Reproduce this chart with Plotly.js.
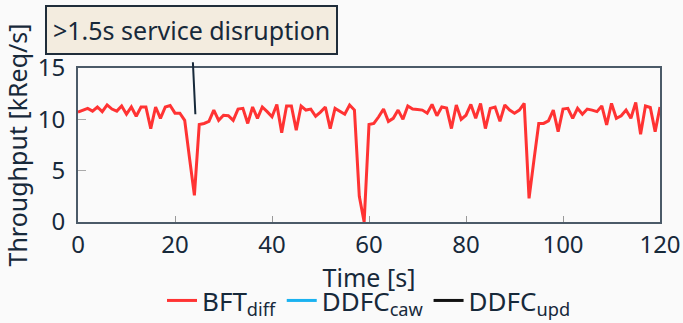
<!DOCTYPE html>
<html>
<head>
<meta charset="utf-8">
<script src="https://cdn.plot.ly/plotly-3.0.1.min.js"></script>
<style>html,body{margin:0;padding:0;background:#fafafa;}#chart{width:683px;height:323px;}</style>
</head>
<body>
<div id="chart"></div>
<script>
// Time in seconds (one sample per second)
const timeSec = [];
for (let i = 0; i <= 120; i++) timeSec.push(i);

// BFT_diff throughput [kReq/s]
const bftDiff = [
  10.7, 10.9, 11.07, 10.8, 11.2, 10.75, 11.4, 11.0, 10.8, 11.3,
  10.5, 11.2, 10.3, 11.2, 11.2, 9.1, 11.2, 10.1, 11.2, 11.35,
  10.6, 10.6, 9.9, 6.2, 2.6, 9.5, 9.6, 9.8, 10.9, 9.9,
  10.4, 10.35, 9.9, 11.0, 11.07, 9.6, 11.2, 10.1, 11.2, 10.75,
  10.25, 11.45, 8.7, 11.3, 11.3, 8.95, 11.3, 10.9, 11.0, 10.3,
  10.7, 11.2, 9.1, 11.07, 10.75, 10.5, 11.4, 10.9, 2.5, 0.0,
  9.5, 9.6, 10.25, 11.0, 9.8, 10.1, 10.9, 10.0, 11.3, 11.0,
  10.95, 10.9, 10.6, 11.45, 10.35, 11.2, 11.1, 9.1, 11.4, 10.0,
  10.4, 11.45, 10.1, 11.55, 9.1, 11.07, 11.2, 9.8, 11.4, 10.9,
  10.6, 10.9, 11.55, 2.3, 6.0, 9.6, 9.6, 9.85, 10.9, 8.8,
  11.0, 11.07, 10.1, 11.07, 10.5, 11.0, 10.9, 10.75, 11.3, 9.45,
  11.55, 10.1, 10.35, 10.9, 10.1, 11.65, 8.55, 11.3, 11.15, 8.8,
  11.2
];

// Other series shown only in the legend (no visible data in this panel)
const ddfcCaw = [null];
const ddfcUpd = [null];

const seriesNames = ['BFT<sub>diff</sub>', 'DDFC<sub>caw</sub>', 'DDFC<sub>upd</sub>'];
const seriesColors = ['#ff3333', '#1ab2f0', '#111111'];

const annText = '>1.5s service disruption';
const annX = 24.2, annY = 10.5;

const FONT = '"Noto Sans", sans-serif';
const TXT = '#17293a';

const traces = [
  {x: timeSec, y: bftDiff, name: seriesNames[0], mode: 'lines', line: {color: seriesColors[0], width: 3}},
  {x: ddfcCaw.map(() => null), y: ddfcCaw, name: seriesNames[1], mode: 'lines', line: {color: seriesColors[1], width: 3}, showlegend: true},
  {x: ddfcUpd.map(() => null), y: ddfcUpd, name: seriesNames[2], mode: 'lines', line: {color: seriesColors[2], width: 3}, showlegend: true}
];

const layout = {
  width: 683, height: 323,
  margin: {l: 78, r: 23, t: 68, b: 101, autoexpand: false},
  paper_bgcolor: '#fafafa',
  plot_bgcolor: '#fafafa',
  font: {family: FONT, color: TXT, size: 24},
  showlegend: true,
  legend: {orientation: 'h', x: 0.5, xanchor: 'center', y: -0.51, yanchor: 'middle',
           font: {size: 26, color: TXT}, bgcolor: 'rgba(0,0,0,0)', itemwidth: 30, tracegroupgap: 0},
  xaxis: {
    range: [0, 120], tickvals: [0, 20, 40, 60, 80, 100, 120], automargin: false,
    ticks: 'inside', ticklen: 6, tickwidth: 1, tickcolor: '#999',
    showline: true, mirror: true, linecolor: '#4b5a68', linewidth: 2,
    showgrid: false, zeroline: false,
    tickfont: {size: 24, color: TXT},
    title: {text: 'Time [s]', font: {size: 25, color: TXT}, standoff: 0}
  },
  yaxis: {
    range: [0, 15], tickvals: [0, 5, 10, 15], automargin: false,
    ticks: 'inside', ticklen: 8, tickwidth: 1, tickcolor: '#aaa',
    showline: true, mirror: true, linecolor: '#4b5a68', linewidth: 2,
    showgrid: false, zeroline: false, ticklabelstandoff: 6,
    tickfont: {size: 24, color: TXT},
    title: {text: 'Throughput [kReq/s]', font: {size: 25, color: TXT}, standoff: 4}
  },
  annotations: [{
    x: annX, y: annY, xref: 'x', yref: 'y',
    text: annText, showarrow: true, arrowhead: 0, arrowwidth: 2, arrowcolor: '#17293a',
    ax: -4, ay: -84, startstandoff: 8,
    bgcolor: '#f3ecdf', bordercolor: '#1f2d3a', borderwidth: 2, borderpad: 6,
    font: {size: 25, color: TXT, family: FONT}
  }]
};

Plotly.newPlot('chart', traces, layout, {displayModeBar: false, staticPlot: true});
</script>
</body>
</html>
